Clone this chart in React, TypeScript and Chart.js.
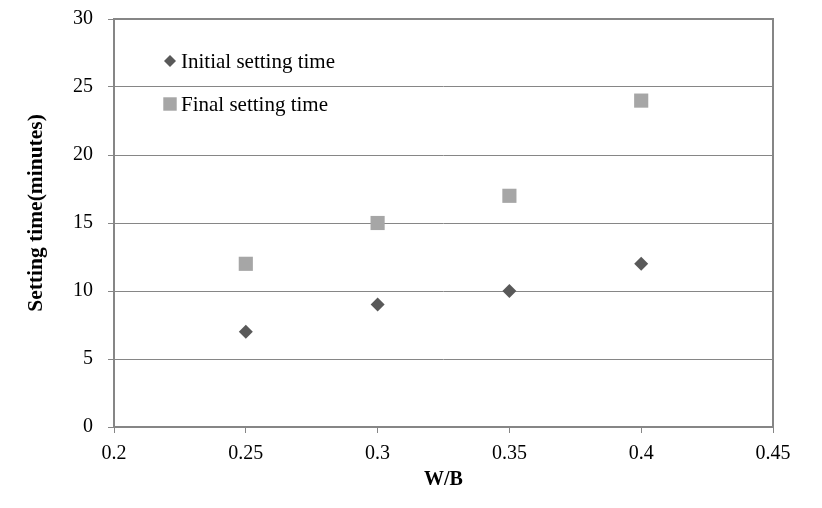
import React, { useEffect, useRef } from "react";
import { Chart, registerables } from "chart.js";

Chart.register(...registerables);

const wbValues = [0.25, 0.3, 0.35, 0.4];
const initialSetting = [7, 9, 10, 12];
const finalSetting = [12, 15, 17, 24];
const seriesNames = ["Initial setting time", "Final setting time"];
const xTitle = "W/B";
const yTitle = "Setting time(minutes)";

const GRID = "#868686";
const INITIAL_COLOR = "#595959";
const FINAL_COLOR = "#a6a6a6";
const FONT = "'Liberation Serif', 'Times New Roman', serif";

function drawMarker(ctx: CanvasRenderingContext2D, style: string, x: number, y: number, r: number) {
  ctx.beginPath();
  if (style === "rect") {
    const s = r * Math.SQRT1_2;
    ctx.rect(x - s, y - s, 2 * s, 2 * s);
  } else {
    ctx.moveTo(x, y - r);
    ctx.lineTo(x + r, y);
    ctx.lineTo(x, y + r);
    ctx.lineTo(x - r, y);
    ctx.closePath();
  }
  ctx.fill();
}

const framePlugin = {
  id: "frame",
  afterDatasetsDraw(chart: any) {
    const { ctx, chartArea } = chart;
    ctx.save();
    ctx.strokeStyle = GRID;
    ctx.lineWidth = 2;
    ctx.strokeRect(chartArea.left, chartArea.top, chartArea.right - chartArea.left, chartArea.bottom - chartArea.top);
    ctx.restore();
  },
  afterDraw(chart: any) {
    const { ctx, chartArea } = chart;
    ctx.save();
    ctx.font = `21px ${FONT}`;
    ctx.textBaseline = "middle";
    ctx.textAlign = "left";
    chart.data.datasets.forEach((d: any, i: number) => {
      const y = chartArea.top + 42 + i * 43;
      ctx.fillStyle = d.backgroundColor;
      drawMarker(ctx, d.pointStyle, chartArea.left + 56, y, d.pointStyle === "rect" ? 9.5 : 6);
      ctx.fillStyle = "#000";
      ctx.fillText(d.label, chartArea.left + 67, y + 1);
    });
    // y-axis title
    ctx.save();
    ctx.translate(36, 213);
    ctx.rotate(-Math.PI / 2);
    ctx.font = `bold 21.5px ${FONT}`;
    ctx.textAlign = "center";
    ctx.textBaseline = "middle";
    ctx.fillStyle = "#000";
    ctx.fillText(yTitle, 0, 0);
    ctx.restore();
    ctx.restore();
  },
};

export default function App() {
  const ref = useRef<HTMLCanvasElement>(null);
  useEffect(() => {
    const canvas = ref.current!;
    const chart = new Chart(canvas, {
      type: "scatter",
      data: {
        datasets: [
          {
            label: seriesNames[0],
            data: wbValues.map((x, i) => ({ x, y: initialSetting[i] })),
            pointStyle: "rectRot",
            pointRadius: 7,
            pointHoverRadius: 7,
            backgroundColor: INITIAL_COLOR,
            borderColor: INITIAL_COLOR,
            borderWidth: 0,
            showLine: false,
          },
          {
            label: seriesNames[1],
            data: wbValues.map((x, i) => ({ x, y: finalSetting[i] })),
            pointStyle: "rect",
            pointRadius: 10,
            pointHoverRadius: 10,
            backgroundColor: FINAL_COLOR,
            borderColor: FINAL_COLOR,
            borderWidth: 0,
            showLine: false,
          },
        ],
      },
      options: {
        animation: false,
        responsive: false,
        devicePixelRatio: 1,
        layout: { padding: { left: 0, top: 19, right: 49, bottom: 0 } },
        plugins: {
          legend: { display: false },
          tooltip: { enabled: false },
        },
        scales: {
          x: {
            type: "linear",
            min: 0.2,
            max: 0.45,
            ticks: {
              stepSize: 0.05,
              color: "#000",
              font: { family: FONT, size: 20 },
              padding: 9,
              callback: (v: any) => String(Math.round(Number(v) * 100) / 100),
            },
            grid: { drawOnChartArea: false, drawTicks: true, tickLength: 6, color: GRID, lineWidth: 1 },
            border: { display: false },
            title: {
              display: true,
              text: xTitle,
              color: "#000",
              font: { family: FONT, size: 20, weight: "bold" },
              padding: { top: 0, bottom: 16 },
            },
            afterFit: (s: any) => {
              s.height = 81;
              s.paddingLeft = 0;
              s.paddingRight = 0;
            },
          },
          y: {
            type: "linear",
            min: 0,
            max: 30,
            ticks: {
              stepSize: 5,
              color: "#000",
              font: { family: FONT, size: 20 },
              padding: 15,
            },
            grid: { drawTicks: true, tickLength: 6, color: GRID, lineWidth: 1 },
            border: { display: false },
            title: { display: false },
            afterFit: (s: any) => {
              s.width = 114;
              s.paddingTop = 0;
              s.paddingBottom = 0;
            },
          },
        },
      },
      plugins: [framePlugin],
    });
    return () => chart.destroy();
  }, []);
  return (
    <div style={{ position: "fixed", left: 0, top: 0, width: 822, height: 508, background: "#fff" }}>
      <canvas ref={ref} width={822} height={508} style={{ width: 822, height: 508, display: "block" }} />
    </div>
  );
}
